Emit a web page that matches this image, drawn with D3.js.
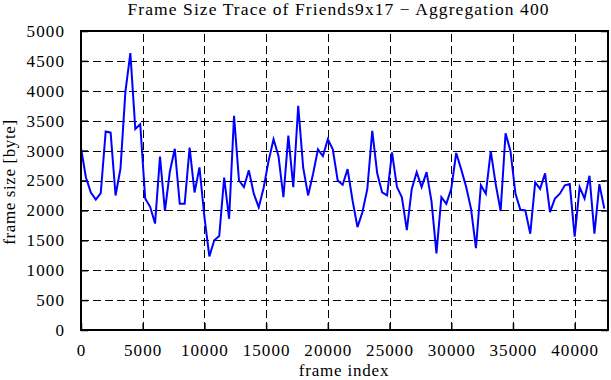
<!DOCTYPE html>
<html>
<head>
<meta charset="utf-8">
<script src="https://cdn.jsdelivr.net/npm/d3@7"></script>
<style>
  html, body { margin: 0; padding: 0; background: #fff; }
  svg { display: block; }
  text { font-family: "Liberation Serif", "Times New Roman", serif; fill: #000; }
</style>
</head>
<body>
<svg id="chart" width="611" height="380"></svg>
<script>
const title = "Frame Size Trace of Friends9x17 \u2212 Aggregation 400";
const xLabel = "frame index";
const yLabel = "frame size [byte]";
const aggregation = 400;
const xDomain = [0, 42700];
const yDomain = [0, 5000];
const xTicks = [0, 5000, 10000, 15000, 20000, 25000, 30000, 35000, 40000];
const yTicks = [0, 500, 1000, 1500, 2000, 2500, 3000, 3500, 4000, 4500, 5000];
const frameSizes = [
  3040, 2550, 2300, 2180, 2290, 3320, 3300, 2250, 2700, 3990,
  4630, 3360, 3440, 2200, 2060, 1780, 2900, 1990, 2650, 3030,
  2110, 2110, 3050, 2300, 2720, 1890, 1230, 1500, 1570, 2550,
  1860, 3580, 2500, 2390, 2670, 2280, 2050, 2380, 2830, 3190,
  2910, 2220, 3250, 2390, 3750, 2720, 2250, 2610, 3020, 2910,
  3190, 3020, 2500, 2430, 2690, 2170, 1720, 1970, 2360, 3330,
  2620, 2300, 2250, 2970, 2390, 2220, 1670, 2360, 2640, 2390,
  2640, 2150, 1280, 2220, 2110, 2360, 2960, 2690, 2400, 2030,
  1370, 2420, 2280, 2990, 2440, 1990, 3290, 2990, 2280, 2010,
  2000, 1610, 2470, 2360, 2620, 1970, 2200, 2280, 2420, 2440,
  1560, 2390, 2200, 2580, 1610, 2440, 2030
];

const svg = d3.select("#chart");
const m = { left: 81, right: 608, top: 31, bottom: 330 };
const x = d3.scaleLinear().domain(xDomain).range([m.left, m.right]);
const y = d3.scaleLinear().domain(yDomain).range([m.bottom, m.top]);

// grid
const grid = svg.append("g").attr("shape-rendering", "crispEdges");
grid.selectAll("line.hg").data(yTicks.filter(d => d > yDomain[0] && d < yDomain[1]))
  .enter().append("line")
  .attr("x1", m.left).attr("x2", m.right)
  .attr("y1", d => Math.round(y(d)) + 0.5).attr("y2", d => Math.round(y(d)) + 0.5)
  .attr("stroke", "#000").attr("stroke-width", 1).attr("stroke-dasharray", "8,4");
grid.selectAll("line.vg").data(xTicks.filter(d => d > xDomain[0]))
  .enter().append("line")
  .attr("y1", m.bottom).attr("y2", m.top)
  .attr("x1", d => Math.round(x(d)) + 0.5).attr("x2", d => Math.round(x(d)) + 0.5)
  .attr("stroke", "#000").attr("stroke-width", 1).attr("stroke-dasharray", "8,4");

// axes
const fmt = d3.format("d");
const yAxisL = d3.axisLeft(y).tickValues(yTicks).tickFormat(fmt).tickSizeInner(-7).tickSizeOuter(0).tickPadding(16);
const yAxisR = d3.axisRight(y).tickValues(yTicks).tickFormat("").tickSizeInner(-7).tickSizeOuter(0);
const xAxisB = d3.axisBottom(x).tickValues(xTicks).tickFormat(fmt).tickSizeInner(-7).tickSizeOuter(0).tickPadding(14);

function style(g) {
  g.select(".domain").remove();
  g.selectAll(".tick line").attr("stroke", "#000").attr("stroke-width", 1.5);
  g.selectAll(".tick text").attr("font-size", 17).attr("letter-spacing", 1.1)
    .style("font-family", "'Liberation Serif', serif").attr("fill", "#000");
}
svg.append("g").attr("transform", `translate(${m.left},0)`).call(yAxisL).call(style);
svg.append("g").attr("transform", `translate(${m.right},0)`).call(yAxisR).call(style);
svg.append("g").attr("transform", `translate(0,${m.bottom})`).call(xAxisB).call(style);

// data line
const line = d3.line().x((d, i) => x(i * aggregation)).y(d => y(d));
svg.append("path").datum(frameSizes)
  .attr("d", line).attr("fill", "none")
  .attr("stroke", "#0000ff").attr("stroke-width", 2).attr("stroke-linejoin", "miter");

// frame
svg.append("rect")
  .attr("x", m.left).attr("y", m.top)
  .attr("width", m.right - m.left).attr("height", m.bottom - m.top)
  .attr("fill", "none").attr("stroke", "#000").attr("stroke-width", 2);

// titles
svg.append("text").attr("x", 338).attr("y", 15)
  .attr("text-anchor", "middle").attr("font-size", 17.5)
  .attr("textLength", 421).attr("lengthAdjust", "spacing")
  .text(title);
svg.append("text").attr("x", 344).attr("y", 376)
  .attr("text-anchor", "middle").attr("font-size", 17).attr("letter-spacing", 0.8)
  .text(xLabel);
svg.append("text").attr("transform", "translate(15,182) rotate(-90)")
  .attr("text-anchor", "middle").attr("font-size", 17).attr("letter-spacing", 0.6)
  .text(yLabel);
</script>
</body>
</html>
